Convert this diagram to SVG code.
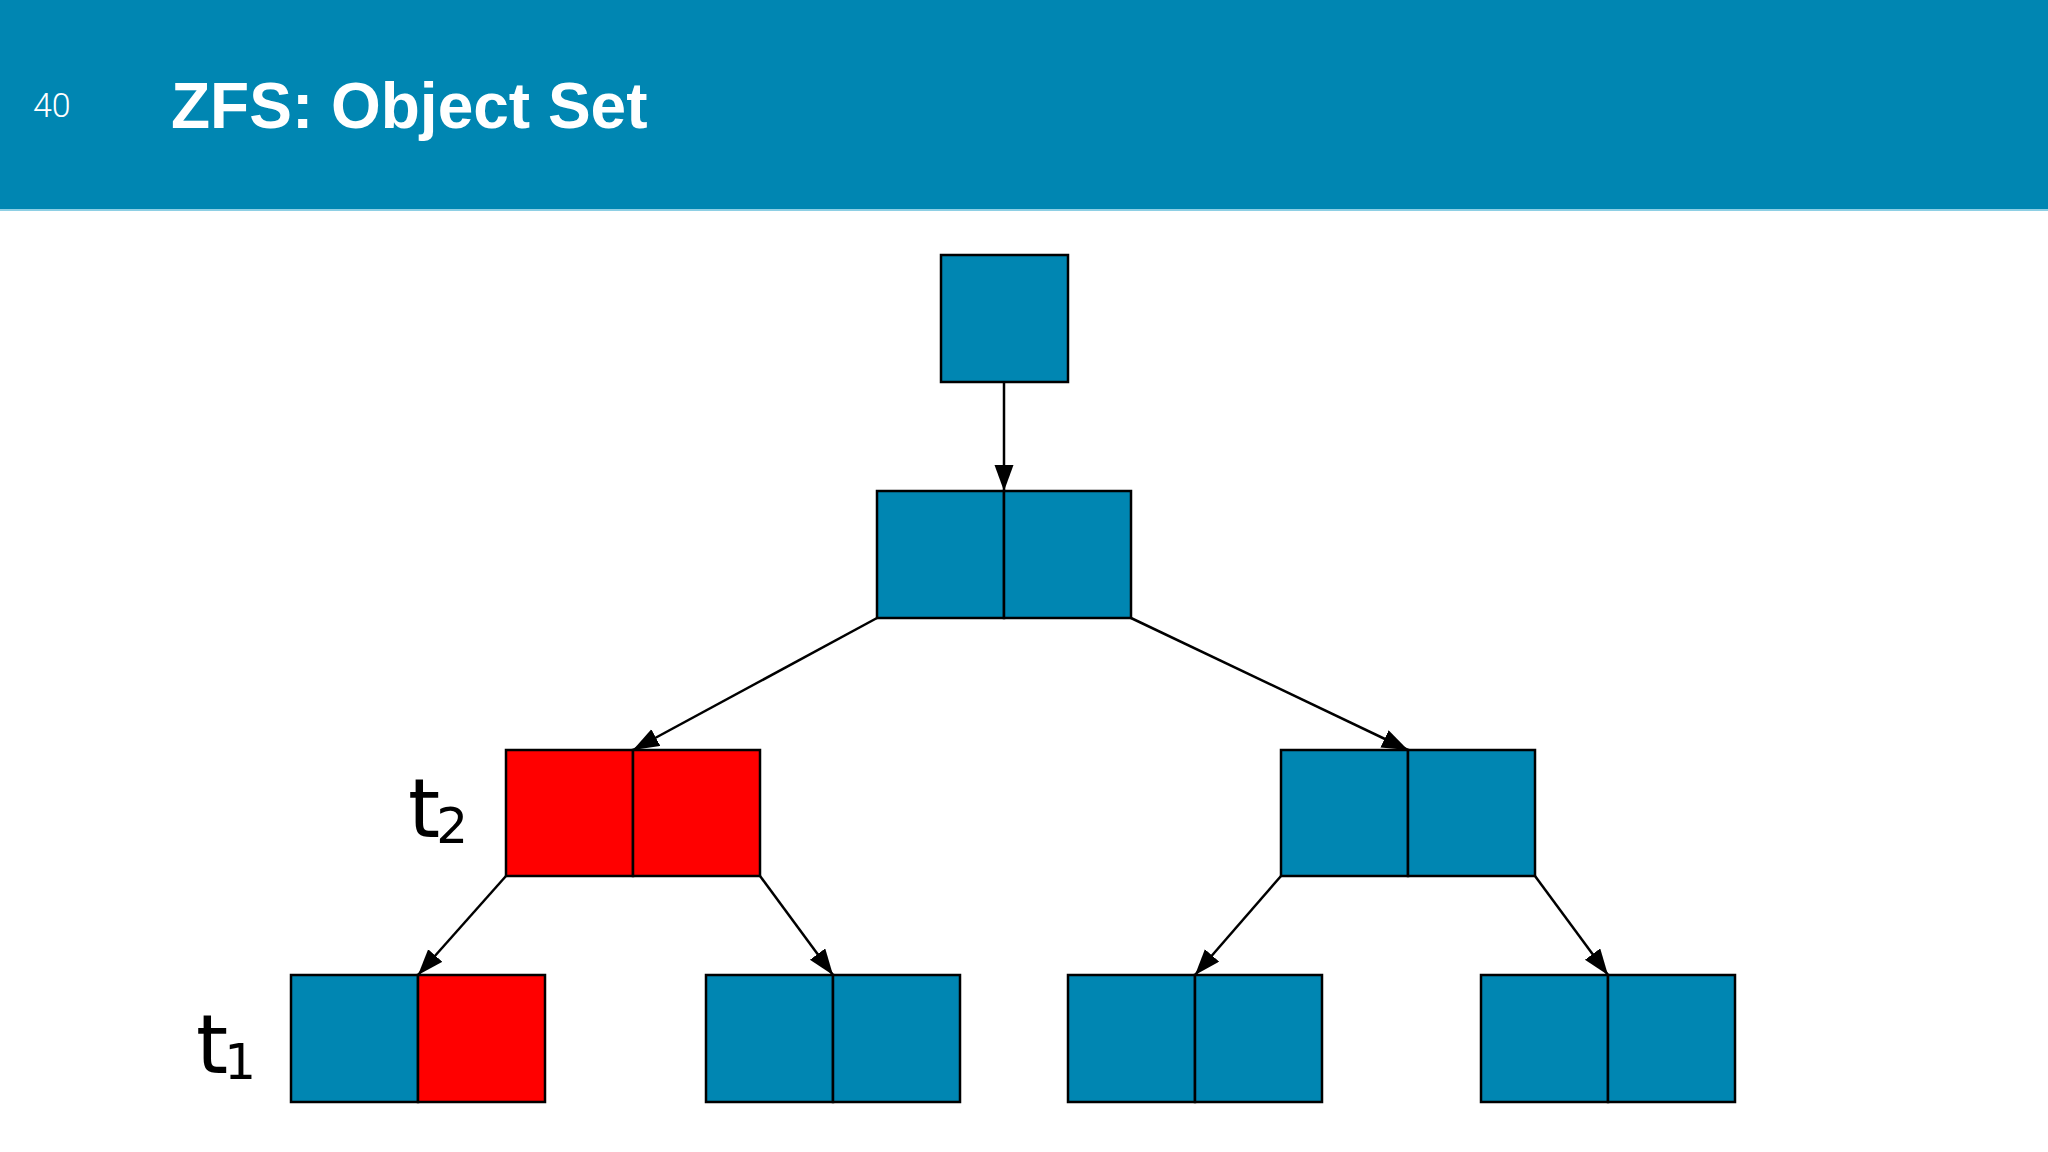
<svg xmlns="http://www.w3.org/2000/svg" width="2048" height="1152" viewBox="0 0 2048 1152">
  <defs>
    <style>
      .cell { stroke: #000000; stroke-width: 2.5; }
      .blue { fill: #0086B2; }
      .red { fill: #FF0000; }
      .conn { stroke: #000000; stroke-width: 2.5; fill: none; marker-end: url(#arrow); }
      .lbl { font-family: "DejaVu Sans", "Liberation Sans", sans-serif; fill: #000000; }
    </style>
    <marker id="arrow" markerUnits="userSpaceOnUse" markerWidth="28" markerHeight="20" refX="26" refY="9.5" orient="auto">
      <path d="M0,0 L26,9.5 L0,19 z" fill="#000000"/>
    </marker>
  </defs>

  <rect x="0" y="0" width="2048" height="1152" fill="#FFFFFF"/>

  <g id="header">
    <rect x="0" y="0" width="2048" height="210" fill="#0086B2"/>
    <rect x="0" y="209" width="2048" height="2" fill="#8ECFE4"/>
    <text x="33" y="117" font-family="Roboto, 'Liberation Sans', sans-serif" font-weight="300" font-size="34" fill="#FFFFFF">40</text>
    <text x="171" y="128" font-family="'Liberation Sans', Arial, sans-serif" font-weight="bold" font-size="64" fill="#FFFFFF">ZFS: Object Set</text>
  </g>

  <g id="connectors">
    <line class="conn" x1="1004" y1="382" x2="1004" y2="491"/>
    <line class="conn" x1="877" y1="618" x2="633" y2="750"/>
    <line class="conn" x1="1131" y1="618" x2="1408" y2="750"/>
    <line class="conn" x1="506" y1="876" x2="418" y2="975"/>
    <line class="conn" x1="760" y1="876" x2="833" y2="975"/>
    <line class="conn" x1="1281" y1="876" x2="1195" y2="975"/>
    <line class="conn" x1="1535" y1="876" x2="1608" y2="975"/>
  </g>

  <g id="node-root">
    <rect class="cell blue" x="941" y="255" width="127" height="127"/>
  </g>

  <g id="node-l2">
    <rect class="cell blue" x="877" y="491" width="127" height="127"/>
    <rect class="cell blue" x="1004" y="491" width="127" height="127"/>
  </g>

  <g id="node-l3-left">
    <rect class="cell red" x="506" y="750" width="127" height="126"/>
    <rect class="cell red" x="633" y="750" width="127" height="126"/>
  </g>

  <g id="node-l3-right">
    <rect class="cell blue" x="1281" y="750" width="127" height="126"/>
    <rect class="cell blue" x="1408" y="750" width="127" height="126"/>
  </g>

  <g id="node-l4-a">
    <rect class="cell blue" x="291" y="975" width="127" height="127"/>
    <rect class="cell red" x="418" y="975" width="127" height="127"/>
  </g>

  <g id="node-l4-b">
    <rect class="cell blue" x="706" y="975" width="127" height="127"/>
    <rect class="cell blue" x="833" y="975" width="127" height="127"/>
  </g>

  <g id="node-l4-c">
    <rect class="cell blue" x="1068" y="975" width="127" height="127"/>
    <rect class="cell blue" x="1195" y="975" width="127" height="127"/>
  </g>

  <g id="node-l4-d">
    <rect class="cell blue" x="1481" y="975" width="127" height="127"/>
    <rect class="cell blue" x="1608" y="975" width="127" height="127"/>
  </g>

  <g id="labels">
    <text class="lbl" x="408" y="837" font-size="82">t<tspan font-size="50" dx="-4" dy="6">2</tspan></text>
    <text class="lbl" x="196" y="1073" font-size="82">t<tspan font-size="50" dx="-4" dy="6">1</tspan></text>
  </g>
</svg>
